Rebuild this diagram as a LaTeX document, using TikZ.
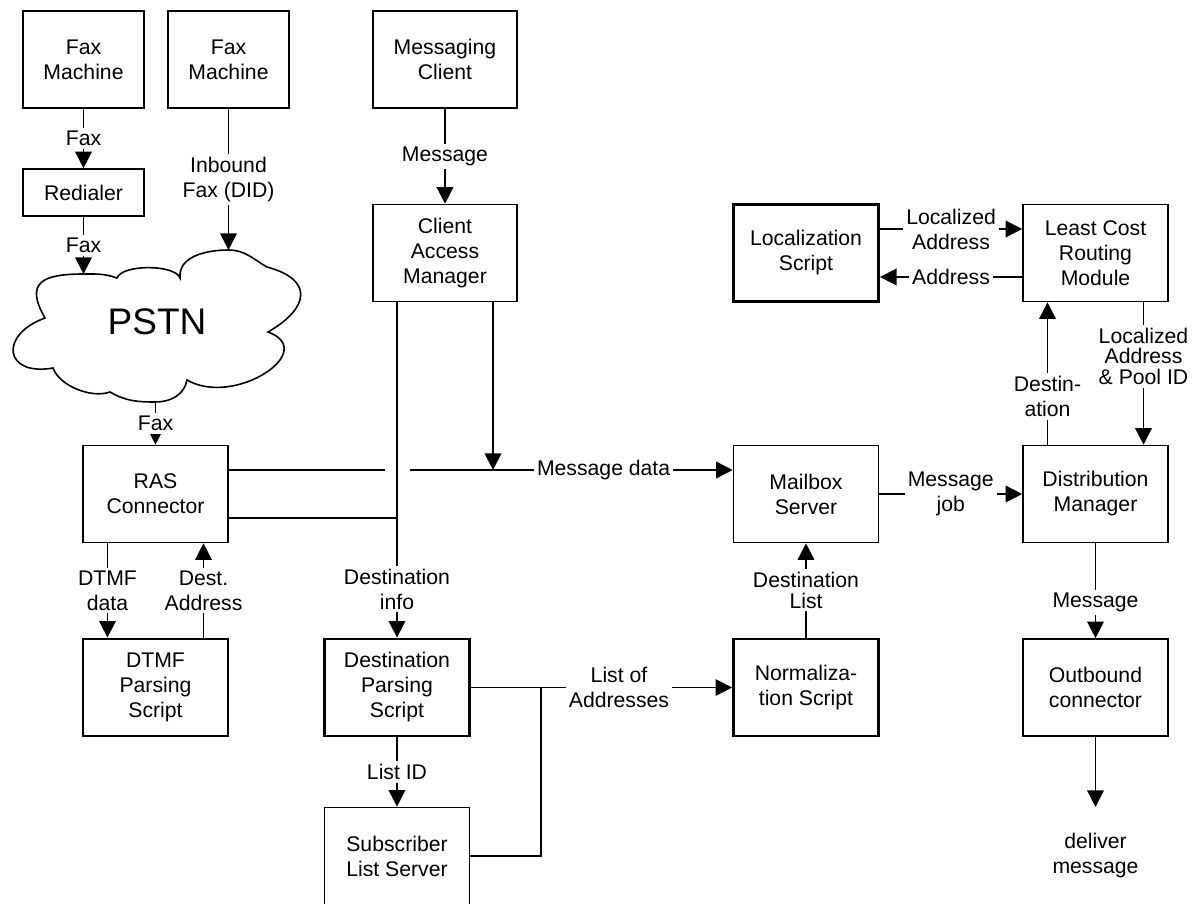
\documentclass[tikz,border=0pt]{standalone}
\usepackage{fontspec}
\setmainfont{Liberation Sans}
\usepackage{tikz}
\usetikzlibrary{arrows.meta, positioning}

\begin{document}
\begin{tikzpicture}[
    x=0.5pt, y=-0.5pt,
    font=\fontsize{10.6}{12.5}\selectfont,
    box/.style={rectangle, draw, line width=0.8pt, minimum width=72.5pt, minimum height=48.5pt, align=center, inner sep=2pt},
    script/.style={box, line width=1.4pt},
    lbl/.style={fill=white, inner sep=1.5pt, align=center},
    tight/.style={lbl, font=\fontsize{10.6}{10.2}\selectfont},
    wire/.style={line width=0.8pt},
    arrow/.style={-{Triangle[length=8.3pt, width=8.3pt]}, line width=0.8pt}
]
\useasboundingbox (0,0) rectangle (1193,904);

% Nodes
\node[box, minimum width=60.5pt] (fax1) at (83.5,59.5) {Fax\\Machine};
\node[box, minimum width=60.5pt] (fax2) at (228.5,59.5) {Fax\\Machine};
\node[box, minimum width=60.5pt, minimum height=23.5pt] (redialer) at (83.5,192.5) {Redialer};
\node[box, minimum width=72pt] (client) at (445,59.5) {Messaging\\Client};
\node[box, minimum width=72pt] (cam) at (445,253) {Client\\Access\\Manager};
\node[script] (locscript) at (806,253) {Localization\\Script};
\node[box] (lcr) at (1095.5,253) {Least Cost\\Routing\\Module};
\node[box] (ras) at (155.5,494) {RAS\\Connector};
\node[box] (mailbox) at (806,494) {Mailbox\\Server};
\node[box] (distmgr) at (1095.5,494) {Distribution\\Manager};
\node[script] (dtmf) at (155.5,687.5) {DTMF\\Parsing\\Script};
\node[script] (destparse) at (397,687.5) {Destination\\Parsing\\Script};
\node[script] (normscript) at (806,687.5) {Normaliza-\\tion Script};
\node[box] (outbound) at (1095.5,687.5) {Outbound\\connector};
\node[box] (sublist) at (397,856) {Subscriber\\List Server};
\node[align=center] (deliver) at (1095.5,856) {deliver\\message};

% PSTN cloud
\coordinate (pstnA) at (83.5,274);
\coordinate (pstnB) at (228.5,250);
\coordinate (pstnC) at (155.5,402);
\draw[wire] (45,318) to[out=120, in=180, looseness=1.8] (pstnA)
    to[out=0, in=160] (117,278)
    to[out=70, in=110, looseness=0.6] (180,278)
    to[out=95, in=180] (pstnB)
    to[out=0, in=150] (267,267)
    to[out=-15, in=30, looseness=1.9] (268,332)
    to[out=-20, in=-30, looseness=1.5] (187,380)
    to[out=-100, in=0] (pstnC)
    to[out=180, in=-30] (110,392)
    to[out=200, in=-70, looseness=0.8] (53,368)
    to[out=190, in=200, looseness=2.5] (45,318) -- cycle;
\node[font=\fontsize{18.5}{22}\selectfont] (pstn) at (157,322) {PSTN};

% Joints
\coordinate (msgjoin) at (493,470);
\coordinate (gapL) at (385,470);
\coordinate (gapR) at (410,470);
\coordinate (tie) at (397,518);
\coordinate (listjoin) at (541,687.5);
\coordinate (deliverpt) at (1095.5,807);

% Arrows
\draw[arrow] (fax1) -- node[lbl] {Fax} (redialer);
\draw[arrow] (redialer) -- node[lbl] {Fax} (pstnA);
\draw[arrow] (fax2) -- node[lbl] {Inbound\\Fax (DID)} (pstnB);
\draw[arrow] (pstnC) -- node[lbl] {Fax} (pstnC |- ras.north);
\draw[arrow] (client) -- node[lbl] {Message} (cam);
\draw[arrow] ([xshift=24pt]cam.south) -- (msgjoin);
\draw[arrow] ([xshift=-24pt]cam.south) -- node[lbl, pos=0.855] {Destination\\info} (destparse);
\draw[wire] ([yshift=12pt]ras.east) -- (gapL);
\draw[arrow] (gapR) -- node[lbl, pos=0.6] {Message data} (gapR -| mailbox.west);
\draw[wire] ([yshift=-12pt]ras.east) -- (tie);
\draw[arrow] ([xshift=-24pt]ras.south) -- node[lbl] {DTMF\\data} ([xshift=-24pt]dtmf.north);
\draw[arrow] ([xshift=24pt]dtmf.north) -- node[lbl] {Dest.\\Address} ([xshift=24pt]ras.south);
\draw[arrow] (destparse) -- node[lbl] {List ID} (sublist);
\draw[arrow] (destparse) -- node[lbl, pos=0.567] {List of\\Addresses} (normscript);
\draw[wire] (sublist) -| (listjoin);
\draw[arrow] (normscript) -- node[tight] {Destination\\List} (mailbox);
\draw[arrow] (mailbox) -- node[lbl] {Message\\job} (distmgr);
\draw[arrow] ([xshift=-24pt]distmgr.north) -- node[lbl, pos=0.34] {Destin-\\ation} ([xshift=-24pt]lcr.south);
\draw[arrow] ([xshift=24pt]lcr.south) -- node[tight, pos=0.38] {Localized\\Address\\\& Pool ID} ([xshift=24pt]distmgr.north);
\draw[arrow] ([yshift=12pt]locscript.east) -- node[lbl] {Localized\\Address} ([yshift=12pt]lcr.west);
\draw[arrow] ([yshift=-12pt]lcr.west) -- node[lbl] {Address} ([yshift=-12pt]locscript.east);
\draw[arrow] (distmgr) -- node[lbl, pos=0.62] {Message} (outbound);
\draw[arrow] (outbound) -- (deliverpt);

\end{tikzpicture}
\end{document}
